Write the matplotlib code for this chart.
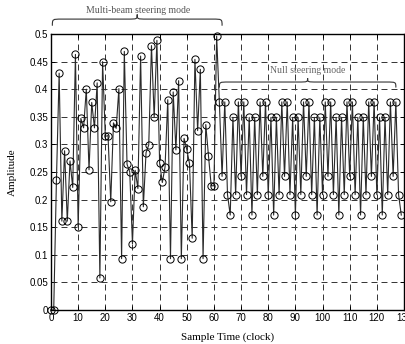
import matplotlib
matplotlib.use('Agg')
import matplotlib.pyplot as plt
from matplotlib.path import Path
from matplotlib.patches import PathPatch
import numpy as np

plt.rcParams['lines.scale_dashes'] = False

# Multi-beam steering part (clock 0..61)
multi_beam = [0.0, 0.0, 0.235, 0.429, 0.161, 0.2885, 0.161, 0.270, 0.222, 0.463,
              0.151, 0.347, 0.330, 0.400, 0.254, 0.376, 0.330, 0.4115, 0.058, 0.450,
              0.3145, 0.316, 0.196, 0.339, 0.329, 0.401, 0.093, 0.4685, 0.264, 0.250,
              0.120, 0.253, 0.220, 0.460, 0.187, 0.285, 0.299, 0.479, 0.349, 0.4885,
              0.266, 0.231, 0.259, 0.381, 0.093, 0.395, 0.290, 0.4155, 0.093, 0.311,
              0.291, 0.2655, 0.130, 0.454, 0.325, 0.436, 0.093, 0.336, 0.279, 0.225,
              0.225, 0.496]
# Null steering part (clock 62..129)
null_steer = [0.377, 0.242, 0.377, 0.209, 0.172, 0.349, 0.209, 0.377,
              0.242, 0.377, 0.209, 0.349, 0.172, 0.349, 0.209, 0.377,
              0.242, 0.377, 0.209, 0.349, 0.172, 0.349, 0.209, 0.377,
              0.242, 0.377, 0.209, 0.349, 0.172, 0.349, 0.209, 0.377,
              0.242, 0.377, 0.209, 0.349, 0.172, 0.349, 0.209, 0.377,
              0.242, 0.377, 0.209, 0.349, 0.172, 0.349, 0.209, 0.377,
              0.242, 0.377, 0.209, 0.349, 0.172, 0.349, 0.209, 0.377,
              0.242, 0.377, 0.209, 0.349, 0.172, 0.349, 0.209, 0.377,
              0.242, 0.377, 0.209, 0.172]
amplitude = multi_beam + null_steer

x_ticks = list(range(0, 131, 10))
y_ticks = [0, 0.05, 0.1, 0.15, 0.2, 0.25, 0.3, 0.35, 0.4, 0.45, 0.5]
y_tick_labels = ['0', '0.05', '0.1', '0.15', '0.2', '0.25', '0.3', '0.35', '0.4', '0.45', '0.5']

sans = 'Liberation Sans'
serif = 'Liberation Serif'

fig = plt.figure(figsize=(4.05, 3.44), dpi=100)
ax = fig.add_axes([51/405, 1 - 310/344, 353/405, 276/344])
x = np.arange(len(amplitude))
ax.plot(x, amplitude, color='#2a2a2a', lw=0.8, marker='o', ms=5.2,
        mfc='none', mec='black', mew=0.7, clip_on=False)
ax.set_xlim(0, 130)
ax.set_ylim(0, 0.5)
ax.set_xticks(x_ticks)
ax.set_yticks(y_ticks)
ax.set_yticklabels(y_tick_labels)
ax.grid(True, ls=(0, (4.3, 2.9)), color='#333333', lw=0.7)
ax.tick_params(direction='in', top=True, right=True, length=3, width=0.7,
               labelsize=7, pad=2)
for lab in ax.get_xticklabels() + ax.get_yticklabels():
    lab.set_family(sans)
for s in ax.spines.values():
    s.set_linewidth(1.0)
ax.set_xlabel('Sample Time (clock)', family=serif, fontsize=8, labelpad=7)
ax.set_ylabel('Amplitude', family=serif, fontsize=8, labelpad=9)


def brace(ax, x0, x1, y, h, w, color):
    xm = (x0 + x1) / 2
    verts = [(x0, y - h), (x0, y), (x0, y), (x0 + w, y),
             (xm - w, y),
             (xm, y), (xm, y), (xm, y + h * 0.7),
             (xm, y), (xm, y), (xm + w, y),
             (x1 - w, y),
             (x1, y), (x1, y), (x1, y - h)]
    codes = [Path.MOVETO, Path.CURVE4, Path.CURVE4, Path.CURVE4,
             Path.LINETO,
             Path.CURVE4, Path.CURVE4, Path.CURVE4,
             Path.CURVE4, Path.CURVE4, Path.CURVE4,
             Path.LINETO,
             Path.CURVE4, Path.CURVE4, Path.CURVE4]
    ax.add_patch(PathPatch(Path(verts, codes), fc='none', ec=color, lw=0.8,
                           clip_on=False))


brace(ax, 0.5, 63, 0.527, 0.012, 3.5, '#333333')
ax.text(32, 0.542, 'Multi-beam steering mode', ha='center', va='center',
        fontsize=7, family=serif, color='#555555', clip_on=False)
brace(ax, 62, 127, 0.413, 0.010, 3.5, '#333333')
ax.text(94.5, 0.433, 'Null steering mode', ha='center', va='center',
        fontsize=7, family=serif, color='#666666', clip_on=False)

fig.savefig('out.png', dpi=100)
